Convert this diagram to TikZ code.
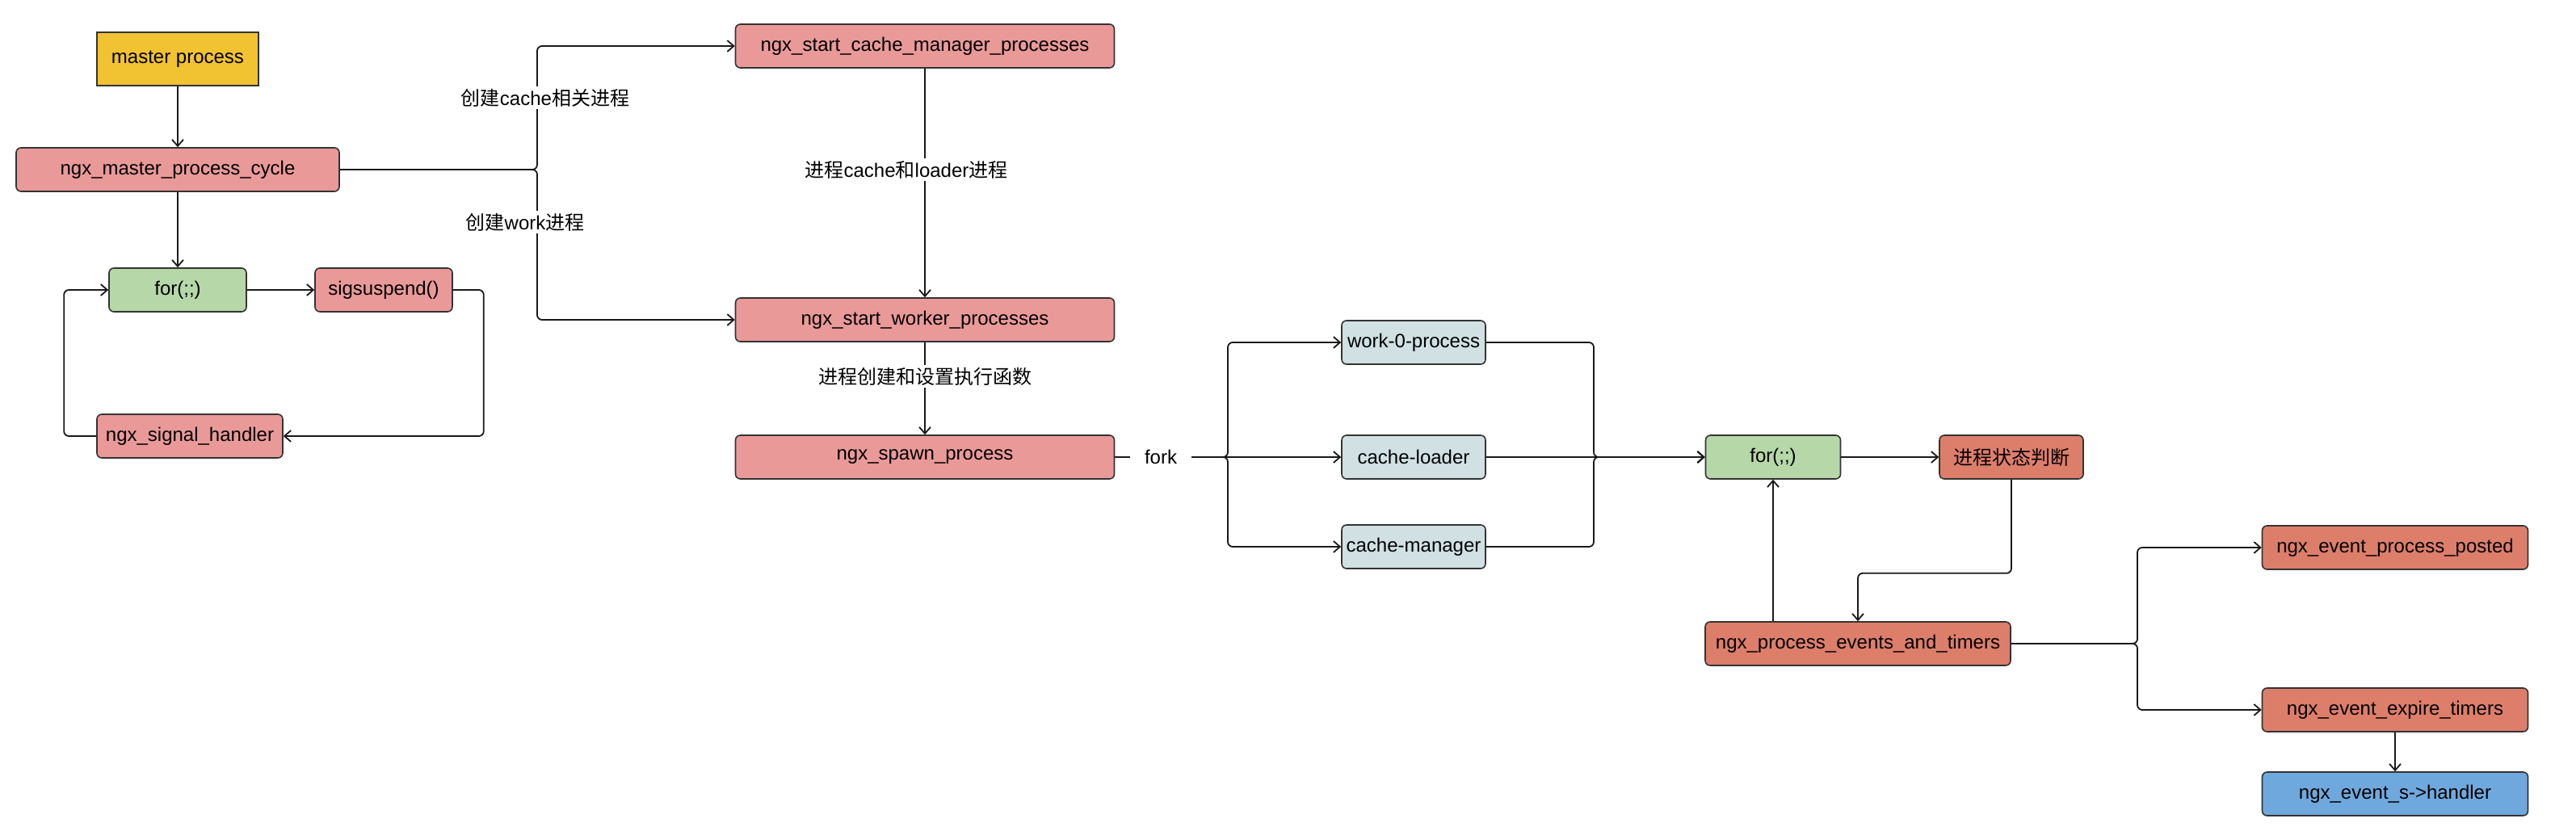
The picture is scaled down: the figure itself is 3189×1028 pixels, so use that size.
\documentclass[tikz,border=0pt]{standalone}
\usepackage{fontspec}
\setmainfont{Liberation Sans}
\newfontfamily\cjk{Noto Sans CJK SC}
\usetikzlibrary{arrows.meta}
\definecolor{yellowfill}{HTML}{F1C232}
\definecolor{pinkfill}{HTML}{EA9999}
\definecolor{greenfill}{HTML}{B6D7A8}
\definecolor{cyanfill}{HTML}{D0E0E3}
\definecolor{redfill}{HTML}{DD7E6B}
\definecolor{bluefill}{HTML}{6FA8DC}
\begin{document}
\begin{tikzpicture}[x=0.5pt,y=-0.5pt,
    box/.style={draw=black!80,line width=0.8pt,rounded corners=3pt,minimum height=27pt,inner xsep=2pt,font=\fontsize{12}{14}\selectfont},
    bw/.style={minimum width=#1*0.5pt},
    lbl/.style={fill=white,inner sep=1.5pt,font=\fontsize{12}{14}\selectfont},
    arr/.style={-{Straight Barb[length=4pt,width=7pt]}},
    conn/.style={draw=black!90,line width=0.9pt,rounded corners=3pt}]
  \useasboundingbox (0,0) rectangle (3189,1028);

  % master side
  \node[box,rounded corners=0pt,fill=yellowfill,minimum height=33pt,bw=200] (master) at (220,73) {master process};
  \node[box,fill=pinkfill,bw=400] (mcycle) at (220,210) {ngx\_master\_process\_cycle};
  \node[box,fill=greenfill,bw=170] (forA) at (220,359) {for(;;)};
  \node[box,fill=pinkfill,bw=170] (sigsusp) at (475,359) {sigsuspend()};
  \node[box,fill=pinkfill,bw=230] (sighand) at (235,540) {ngx\_signal\_handler};

  \draw[conn,arr] (master) -- (mcycle);
  \draw[conn,arr] (mcycle) -- (forA);
  \draw[conn,arr] (forA) -- (sigsusp);
  \draw[conn,arr] (sigsusp.east) -- ++(38,0) |- (sighand.east);
  \draw[conn,arr] (sighand.west) -- ++(-40,0) |- (forA.west);

  % start processes
  \node[box,fill=pinkfill,bw=469] (cachemgr) at (1145,57) {ngx\_start\_cache\_manager\_processes};
  \node[box,fill=pinkfill,bw=469] (worker) at (1145,396) {ngx\_start\_worker\_processes};
  \node[box,fill=pinkfill,bw=469] (spawn) at (1145,566) {ngx\_spawn\_process};

  \coordinate (jM) at (665,210);
  \draw[conn,arr] (mcycle.east) -- (jM) |- (cachemgr.west);
  \draw[conn,arr] (mcycle.east) -- (jM) |- (worker.west);
  \node[lbl] (lcache) at (675,121) {{\cjk 创建}cache{\cjk 相关进程}};
  \node[lbl] (lwork) at (650,275) {{\cjk 创建}work{\cjk 进程}};

  \draw[conn,arr] (cachemgr) -- (worker);
  \node[lbl] (lloader) at (1122,210) {{\cjk 进程}cache{\cjk 和}loader{\cjk 进程}};
  \draw[conn,arr] (worker) -- (spawn);
  \node[lbl] (lspawn) at (1145,466) {\cjk 进程创建和设置执行函数};

  % fork
  \node[font=\fontsize{12}{14}\selectfont,inner xsep=9pt] (fork) at (1437,566) {fork};
  \node[box,fill=cyanfill,bw=178] (work0) at (1750,424) {work-0-process};
  \node[box,fill=cyanfill,bw=178] (cload) at (1750,566) {cache-loader};
  \node[box,fill=cyanfill,bw=178] (cmgr) at (1750,677) {cache-manager};

  \coordinate (jL) at (1520,566);
  \draw[conn,line width=1.2pt] (spawn) -- (fork);
  \draw[conn,arr] (fork.east) -- (jL) |- (work0.west);
  \draw[conn,arr] (fork.east) -- (cload.west);
  \draw[conn,arr] (fork.east) -- (jL) |- (cmgr.west);

  % worker loop
  \node[box,fill=greenfill,bw=167] (forB) at (2195,566) {for(;;)};
  \node[box,fill=redfill,bw=178] (state) at (2490,566) {\cjk 进程状态判断};
  \node[box,fill=redfill,bw=378] (events) at (2300,797) {ngx\_process\_events\_and\_timers};

  \coordinate (jR) at (1973,566);
  \draw[conn,arr] (work0.east) -| (jR) -- (forB.west);
  \draw[conn,arr] (cload.east) -- (forB.west);
  \draw[conn,arr] (cmgr.east) -| (jR) -- (forB.west);
  \draw[conn,arr] (forB) -- (state);
  \draw[conn,arr] (state.south) -- ++(0,116) -| (events.north);
  \draw[conn,arr] (events.north -| forB.south) -- (forB.south);

  % events
  \node[box,fill=redfill,bw=329] (posted) at (2965,678) {ngx\_event\_process\_posted};
  \node[box,fill=redfill,bw=329] (expire) at (2965,879) {ngx\_event\_expire\_timers};
  \node[box,fill=bluefill,bw=329] (handler) at (2965,983) {ngx\_event\_s->handler};

  \coordinate (jE) at (2646,797);
  \draw[conn,arr] (events.east) -- (jE) |- (posted.west);
  \draw[conn,arr] (events.east) -- (jE) |- (expire.west);
  \draw[conn,arr] (expire) -- (handler);
\end{tikzpicture}
\end{document}
